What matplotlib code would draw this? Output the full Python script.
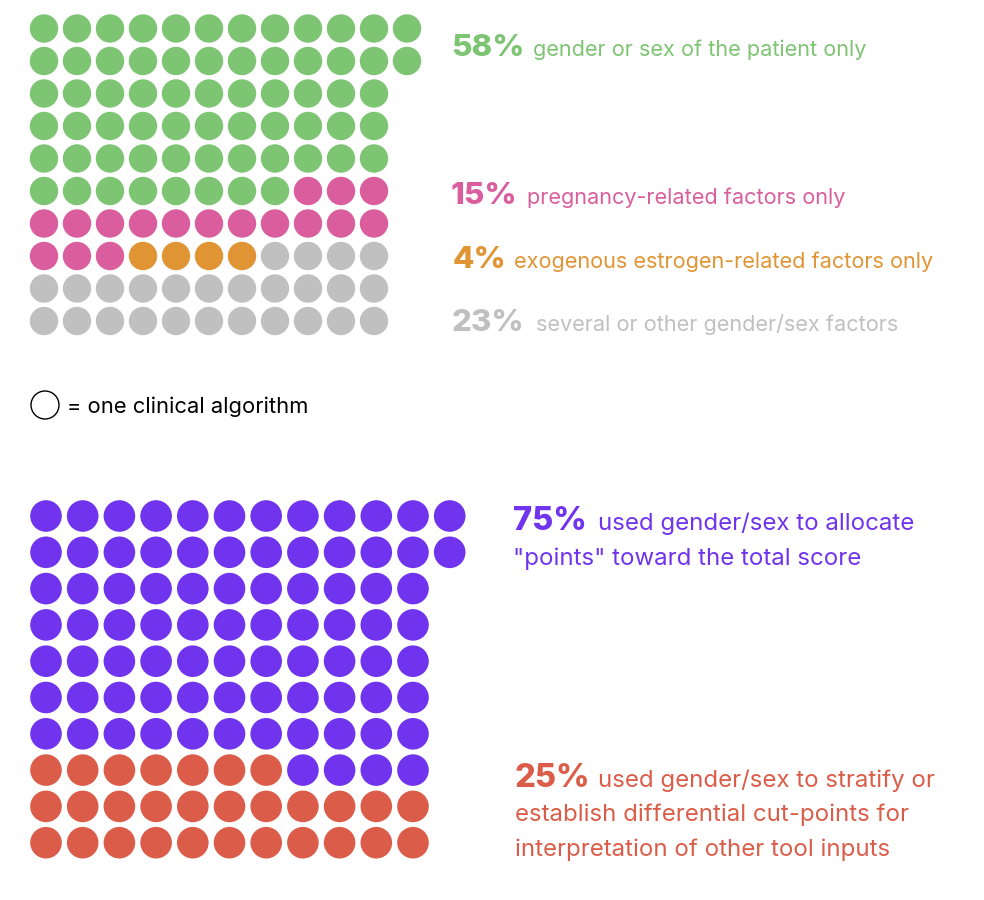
import matplotlib
matplotlib.use("Agg")
import matplotlib.pyplot as plt
from matplotlib.patches import Circle

plt.rcParams['font.family'] = ['Inter', 'DejaVu Sans']

# top waffle: one circle per clinical algorithm
top_row_lengths = [12, 12, 11, 11, 11, 11, 11, 11, 11, 11]
top_counts = [65, 17, 4, 26]
top_colors = ["#7dc473", "#da5e9e", "#e09434", "#c0c0c0"]
top_pcts = ["58%", "15%", "4%", "23%"]
top_texts = ["gender or sex of the patient only",
             "pregnancy-related factors only",
             "exogenous estrogen-related factors only",
             "several or other gender/sex factors"]

# bottom waffle
bottom_row_lengths = [12, 12, 11, 11, 11, 11, 11, 11, 11, 11]
bottom_counts = [83, 29]
bottom_colors = ["#7033ee", "#db5d49"]
bottom_pcts = ["75%", "25%"]
bottom_texts = ["used gender/sex to allocate\n\"points\" toward the total score",
                "used gender/sex to stratify or\nestablish differential cut-points for\ninterpretation of other tool inputs"]


def cell_list(row_lengths):
    cells = []
    for r, n in enumerate(row_lengths):
        for c in range(n):
            cells.append((r, c))
    return cells


def expand(counts, colors):
    out = []
    for n, col in zip(counts, colors):
        out += [col] * n
    return out


fig = plt.figure(figsize=(9.84, 9.0), dpi=100)
ax = fig.add_axes([0, 0, 1, 1])
ax.set_xlim(0, 984)
ax.set_ylim(900, 0)
ax.axis("off")

# top grid, filled in reading order
x0, y0, dx, dy, rad = 44, 28.5, 33.0, 32.5, 14.2
cells = cell_list(top_row_lengths)
for (r, c), col in zip(cells, expand(top_counts, top_colors)):
    ax.add_patch(Circle((x0 + c * dx, y0 + r * dy), rad, color=col, lw=0))

# bottom grid, second group fills from the bottom row up
x0, y0, dx, dy, rad = 46, 516, 36.7, 36.3, 15.8
cells = cell_list(bottom_row_lengths)
cells_bottom_first = sorted(cells, key=lambda rc: (-rc[0], rc[1]))
colors_rev = expand(bottom_counts[::-1], bottom_colors[::-1])
for (r, c), col in zip(cells_bottom_first, colors_rev):
    ax.add_patch(Circle((x0 + c * dx, y0 + r * dy), rad, color=col, lw=0))

# top labels
top_baselines = [56, 204, 268, 331]
top_pct_x = [451, 451, 453, 452]
top_text_x = [533, 527, 514, 536]
for i in range(len(top_pcts)):
    ax.text(top_pct_x[i], top_baselines[i], top_pcts[i], color=top_colors[i],
            fontsize=22.5, fontweight=800, va="baseline", ha="left")
    ax.text(top_text_x[i], top_baselines[i], top_texts[i], color=top_colors[i],
            fontsize=15.6, va="baseline", ha="left")

# legend
ax.add_patch(Circle((45, 405), 14, facecolor="white", edgecolor="black", lw=1))
ax.text(67, 413, "= one clinical algorithm", color="black", fontsize=15.8,
        va="baseline", ha="left")

# bottom labels
bottom_baselines = [530, 787]
bottom_pct_x = [513, 515]
line_gap = 34.5
for i in range(len(bottom_pcts)):
    lines = bottom_texts[i].split("\n")
    ax.text(bottom_pct_x[i], bottom_baselines[i], bottom_pcts[i], color=bottom_colors[i],
            fontsize=23.5, fontweight=800, va="baseline", ha="left")
    ax.text(598, bottom_baselines[i], lines[0], color=bottom_colors[i],
            fontsize=17.3, va="baseline", ha="left")
    for k, line in enumerate(lines[1:], start=1):
        ax.text(bottom_pct_x[i], bottom_baselines[i] + k * line_gap, line,
                color=bottom_colors[i], fontsize=17.3, va="baseline", ha="left")

fig.savefig("out.png", dpi=100, facecolor="white")
